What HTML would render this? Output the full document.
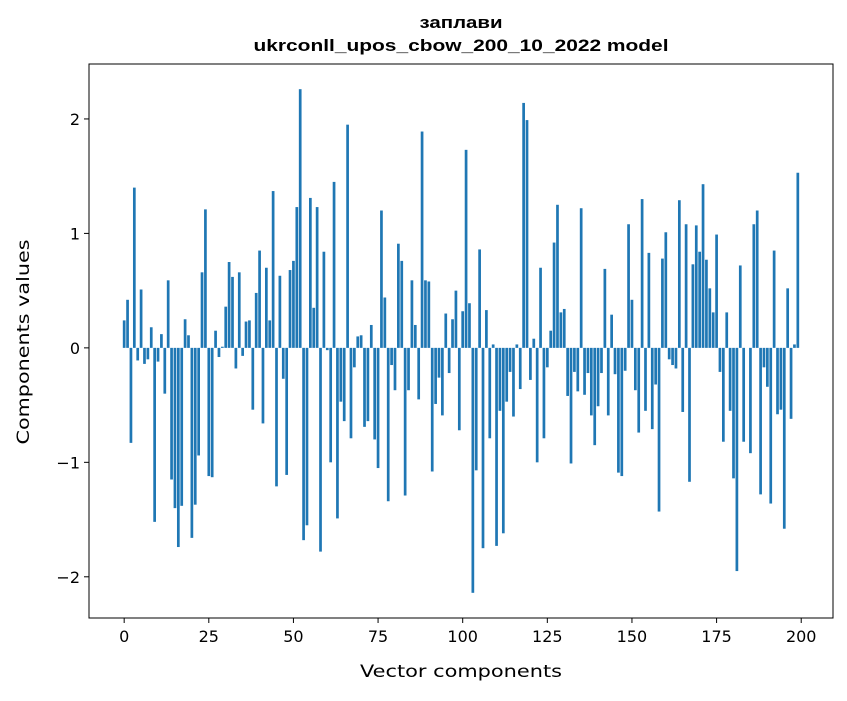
<!DOCTYPE html>
<html><head><meta charset="utf-8"><style>
body{margin:0;background:#fff;font-family:"Liberation Sans","DejaVu Sans",sans-serif;}
svg text{font-family:"DejaVu Sans","Liberation Sans",sans-serif;}
svg text.lab{font-family:"Liberation Sans",sans-serif;}
</style></head><body>
<svg id="chart" width="847" height="696" xmlns="http://www.w3.org/2000/svg">
<rect width="847" height="696" fill="#fff"/>
<text class="lab" x="461" y="28" text-anchor="middle" font-size="17" font-weight="bold" textLength="83" lengthAdjust="spacingAndGlyphs">заплави</text>
<text class="lab" x="461" y="51" text-anchor="middle" font-size="17" font-weight="bold" textLength="415" lengthAdjust="spacingAndGlyphs">ukrconll_upos_cbow_200_10_2022 model</text>
<g id="bars"></g>
<g id="axes"></g>
<rect x="89" y="64" width="744" height="554" fill="none" stroke="#000" stroke-width="1"/>
<text x="461" y="677" text-anchor="middle" font-size="16.5" textLength="202" lengthAdjust="spacingAndGlyphs">Vector components</text>
<text transform="translate(29,342) rotate(-90)" text-anchor="middle" font-size="16.5" textLength="205" lengthAdjust="spacingAndGlyphs">Components values</text>
</svg>
<script>
const values = [0.24,0.42,-0.83,1.40,-0.11,0.51,-0.14,-0.10,0.18,-1.52,
-0.12,0.12,-0.40,0.59,-1.15,-1.40,-1.74,-1.38,0.25,0.11,
-1.66,-1.37,-0.94,0.66,1.21,-1.12,-1.13,0.15,-0.08,0.01,
0.36,0.75,0.62,-0.18,0.66,-0.07,0.23,0.24,-0.54,0.48,
0.85,-0.66,0.70,0.24,1.37,-1.21,0.63,-0.27,-1.11,0.68,
0.76,1.23,2.26,-1.68,-1.55,1.31,0.35,1.23,-1.78,0.84,
-0.02,-1.00,1.45,-1.49,-0.47,-0.64,1.95,-0.79,-0.17,0.10,
0.11,-0.69,-0.64,0.20,-0.80,-1.05,1.20,0.44,-1.34,-0.15,
-0.37,0.91,0.76,-1.29,-0.37,0.59,0.20,-0.45,1.89,0.59,
0.58,-1.08,-0.49,-0.26,-0.59,0.30,-0.22,0.25,0.50,-0.72,
0.32,1.73,0.39,-2.14,-1.07,0.86,-1.75,0.33,-0.79,0.03,
-1.73,-0.55,-1.62,-0.47,-0.21,-0.60,0.03,-0.36,2.14,1.99,
-0.28,0.08,-1.00,0.70,-0.79,-0.17,0.15,0.92,1.25,0.31,
0.34,-0.42,-1.01,-0.21,-0.38,1.22,-0.41,-0.22,-0.59,-0.85,
-0.51,-0.22,0.69,-0.59,0.29,-0.23,-1.09,-1.12,-0.20,1.08,
0.42,-0.37,-0.74,1.30,-0.55,0.83,-0.71,-0.32,-1.43,0.78,
1.01,-0.10,-0.15,-0.18,1.29,-0.56,1.08,-1.17,0.73,1.07,
0.84,1.43,0.77,0.52,0.31,0.99,-0.21,-0.82,0.31,-0.55,
-1.14,-1.95,0.72,-0.82,0.00,-0.92,1.08,1.20,-1.28,-0.17,
-0.34,-1.36,0.85,-0.58,-0.54,-1.58,0.52,-0.62,0.03,1.53];
const xTicks = [0,25,50,75,100,125,150,175,200];
const yTicks = [-2,-1,0,1,2];

const L=89,R=833,T=64,B=618;
const n=values.length;
const xmin=-0.4, xmax=n-1+0.4, xm=(xmax-xmin)*0.05;
const X0=xmin-xm, X1=xmax+xm;
const vmin=Math.min(0,...values), vmax=Math.max(0,...values), ym=(vmax-vmin)*0.05;
const Y0=vmin-ym, Y1=vmax+ym;
const xs=v=>L+(v-X0)/(X1-X0)*(R-L);
const ys=v=>B-(v-Y0)/(Y1-Y0)*(B-T);
const NS="http://www.w3.org/2000/svg";
const bars=document.getElementById('bars');
values.forEach((v,i)=>{
  const r=document.createElementNS(NS,'rect');
  const x1=xs(i-0.4), x2=xs(i+0.4);
  const y1=ys(Math.max(v,0)), y2=ys(Math.min(v,0));
  r.setAttribute('x',x1);r.setAttribute('width',x2-x1);
  r.setAttribute('y',y1);r.setAttribute('height',Math.max(y2-y1,0));
  r.setAttribute('fill','#1f77b4');
  
  
  bars.appendChild(r);
});
const axes=document.getElementById('axes');
xTicks.forEach(t=>{
  const x=xs(t);
  const l=document.createElementNS(NS,'line');
  l.setAttribute('x1',x);l.setAttribute('x2',x);l.setAttribute('y1',B);l.setAttribute('y2',B+5);l.setAttribute('stroke','#000');
  
  
  axes.appendChild(l);
  const tx=document.createElementNS(NS,'text');
  tx.setAttribute('x',x);tx.setAttribute('y',B+24);tx.setAttribute('text-anchor','middle');tx.setAttribute('font-size','16');
  tx.textContent=t;
  
  
  axes.appendChild(tx);
});
yTicks.forEach(t=>{
  const y=ys(t);
  const l=document.createElementNS(NS,'line');
  l.setAttribute('x1',L-5);l.setAttribute('x2',L);l.setAttribute('y1',y);l.setAttribute('y2',y);l.setAttribute('stroke','#000');
  
  
  axes.appendChild(l);
  const tx=document.createElementNS(NS,'text');
  tx.setAttribute('x',L-9);tx.setAttribute('y',y+6);tx.setAttribute('text-anchor','end');tx.setAttribute('font-size','16');
  tx.textContent=t<0?'\u2212'+Math.abs(t):String(t);
  
  
  axes.appendChild(tx);
});
</script>
</body></html>
